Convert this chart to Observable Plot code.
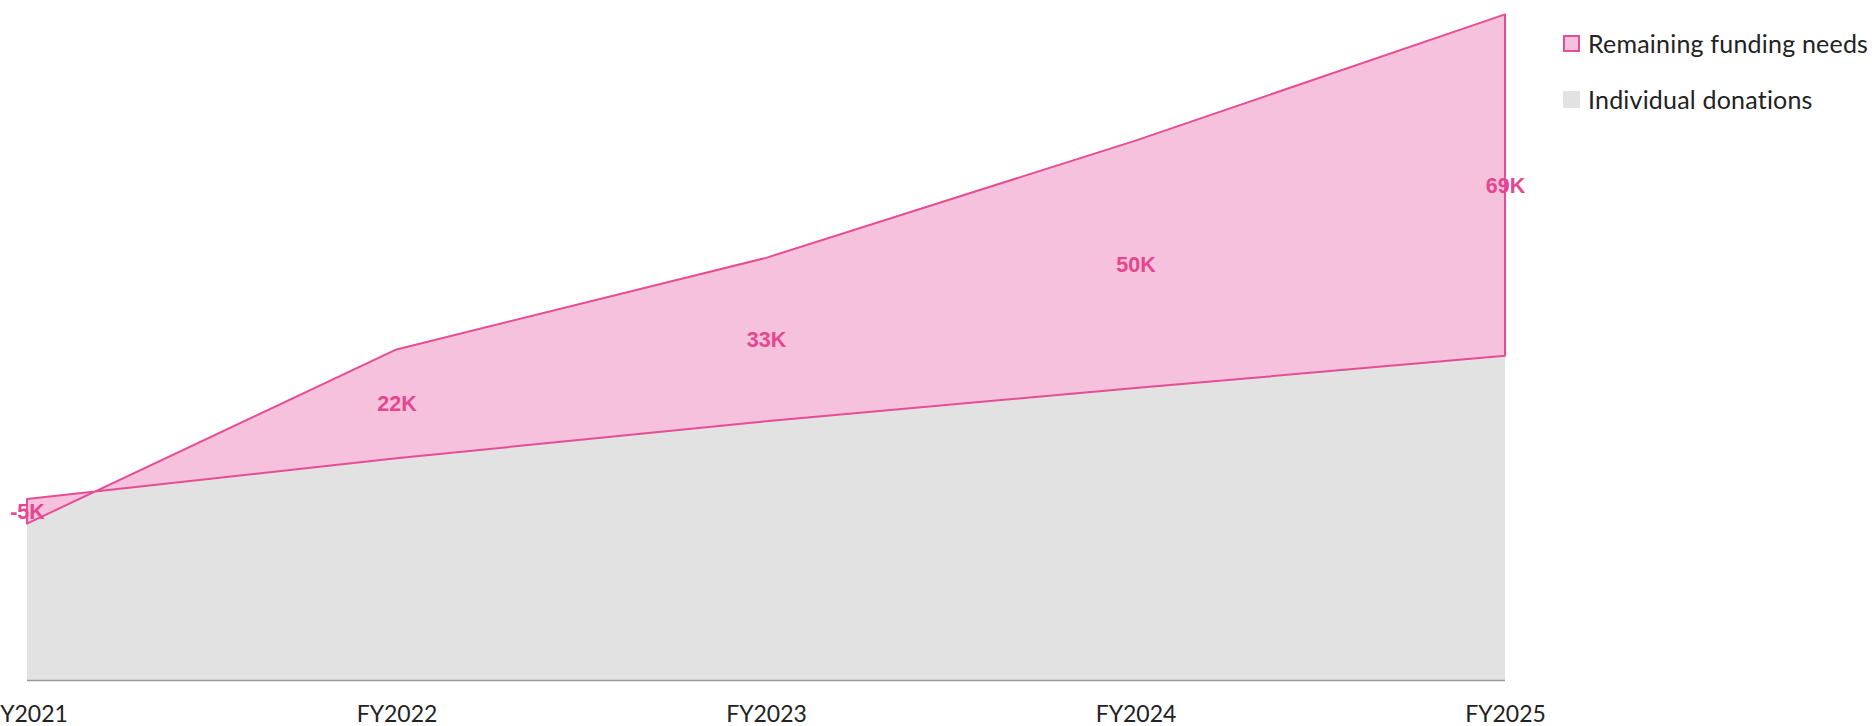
<!DOCTYPE html>
<html>
<head>
<meta charset="utf-8">
<script src="https://cdn.jsdelivr.net/npm/d3@7"></script>
<script src="https://cdn.jsdelivr.net/npm/@observablehq/plot@0.6"></script>
<style>
  html, body { margin: 0; padding: 0; background: #fff; overflow: hidden; }
  #wrap { position: relative; width: 1874px; height: 726px; }
  #legend { position: absolute; left: 1563px; top: 27px; font-family: Lato, sans-serif; font-size: 25px; color: #222; letter-spacing: 0.2px; }
  .item { display: flex; align-items: center; height: 32px; margin-bottom: 24px; }
  .sw { width: 17px; height: 17px; margin-right: 8px; box-sizing: border-box; }
</style>
</head>
<body>
<div id="wrap">
  <div id="chart"></div>
  <div id="legend">
    <div class="item"><span class="sw" style="background:#f5c1dd;border:2px solid #e64d95"></span>Remaining funding needs</div>
    <div class="item"><span class="sw" style="background:#e2e2e2"></span>Individual donations</div>
  </div>
</div>
<script>
const years = [2021, 2022, 2023, 2024, 2025];
const yearLabels = ["FY2021", "FY2022", "FY2023", "FY2024", "FY2025"];
const donations = [36.6, 44.8, 52.3, 59.0, 65.5];
const remaining = [-5, 22, 33, 50, 69];

const rows = years.map((y, i) => ({
  year: y,
  label: yearLabels[i],
  don: donations[i],
  rem: remaining[i],
  top: donations[i] + remaining[i],
  mid: donations[i] + remaining[i] / 2
}));

const chart = Plot.plot({
  width: 1874,
  height: 726,
  marginLeft: 27,
  marginRight: 369,
  marginTop: 7,
  marginBottom: 46,
  style: { fontFamily: "Lato, sans-serif", fontSize: "23px", color: "#222", overflow: "visible" },
  x: { domain: [2021, 2025], ticks: years, tickFormat: (d) => yearLabels[years.indexOf(d)], tickSize: 0, tickPadding: 25, label: null },
  y: { domain: [0, 136], axis: null },
  marks: [
    Plot.areaY(rows, { x: "year", y1: 0, y2: "don", fill: "#e2e2e2" }),
    Plot.areaY(rows, { x: "year", y1: "don", y2: "top", fill: "#f5c1dd", stroke: "#e64d95", strokeWidth: 2 }),
    Plot.ruleY([0], { stroke: "#999", strokeWidth: 1.5 }),
    Plot.text(rows, { x: "year", y: "mid", text: (d) => d.rem + "K", fill: "#e4478f", fontWeight: "bold", fontSize: 21.5, fontFamily: "Liberation Sans, Arial, sans-serif" })
  ]
});
document.getElementById("chart").appendChild(chart);
</script>
</body>
</html>
